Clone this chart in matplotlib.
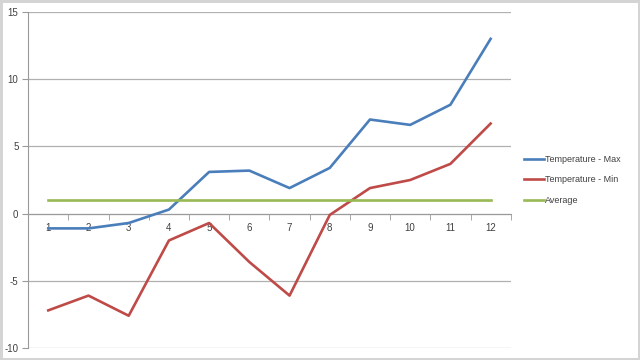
import matplotlib
matplotlib.use("Agg")
import matplotlib.pyplot as plt
from matplotlib.ticker import FixedLocator

months = [1, 2, 3, 4, 5, 6, 7, 8, 9, 10, 11, 12]
temp_max = [-1.1, -1.1, -0.7, 0.3, 3.1, 3.2, 1.9, 3.4, 7.0, 6.6, 8.1, 13.0]
temp_min = [-7.2, -6.1, -7.6, -2.0, -0.7, -3.6, -6.1, -0.1, 1.9, 2.5, 3.7, 6.7]
average = [1.0] * 12
yticks = [-10, -5, 0, 5, 10, 15]

plt.rcParams['font.family'] = ['Liberation Sans', 'DejaVu Sans']
plt.rcParams['axes.unicode_minus'] = False

fig = plt.figure(figsize=(6.4, 3.6), dpi=100)
fig.patch.set_facecolor('white')
fig.patch.set_edgecolor('#d4d4d4')
fig.patch.set_linewidth(2.5)
ax = fig.add_axes([0.044, 0.0333, 0.754, 0.9334])

ax.plot(months, temp_max, color='#4a7ebb', lw=1.9, label='Temperature - Max', zorder=3)
ax.plot(months, temp_min, color='#be4b48', lw=1.9, label='Temperature - Min', zorder=3)
ax.plot(months, average, color='#98b954', lw=1.9, label='Average', zorder=3)

ax.set_xlim(0.5, 12.5)
ax.set_ylim(-10, 15)
ax.set_yticks(yticks)
ax.yaxis.grid(True, color='#b0b0b0', lw=0.9)
ax.set_axisbelow(True)

for s in ['top', 'right']:
    ax.spines[s].set_visible(False)
ax.spines['bottom'].set_position(('data', 0))
ax.spines['bottom'].set_color('#9a9a9a')
ax.spines['left'].set_color('#9a9a9a')

ax.set_xticks(months)
ax.set_xticklabels([str(m) for m in months])
ax.xaxis.set_minor_locator(FixedLocator([m + 0.5 for m in [0] + months]))
ax.tick_params(axis='x', which='major', length=0, pad=7, labelsize=7, labelcolor='#404040')
ax.tick_params(axis='x', which='minor', length=4, direction='out', color='#9a9a9a')
ax.tick_params(axis='y', length=4, direction='out', color='#9a9a9a', labelsize=7, labelcolor='#404040', pad=3)

leg = ax.legend(loc='center left', bbox_to_anchor=(1.01, 0.5), frameon=False,
                fontsize=6.5, handlelength=2.2, handletextpad=0.2, labelspacing=1.25)
for t in leg.get_texts():
    t.set_color('#404040')

fig.savefig('out.png', dpi=100)
